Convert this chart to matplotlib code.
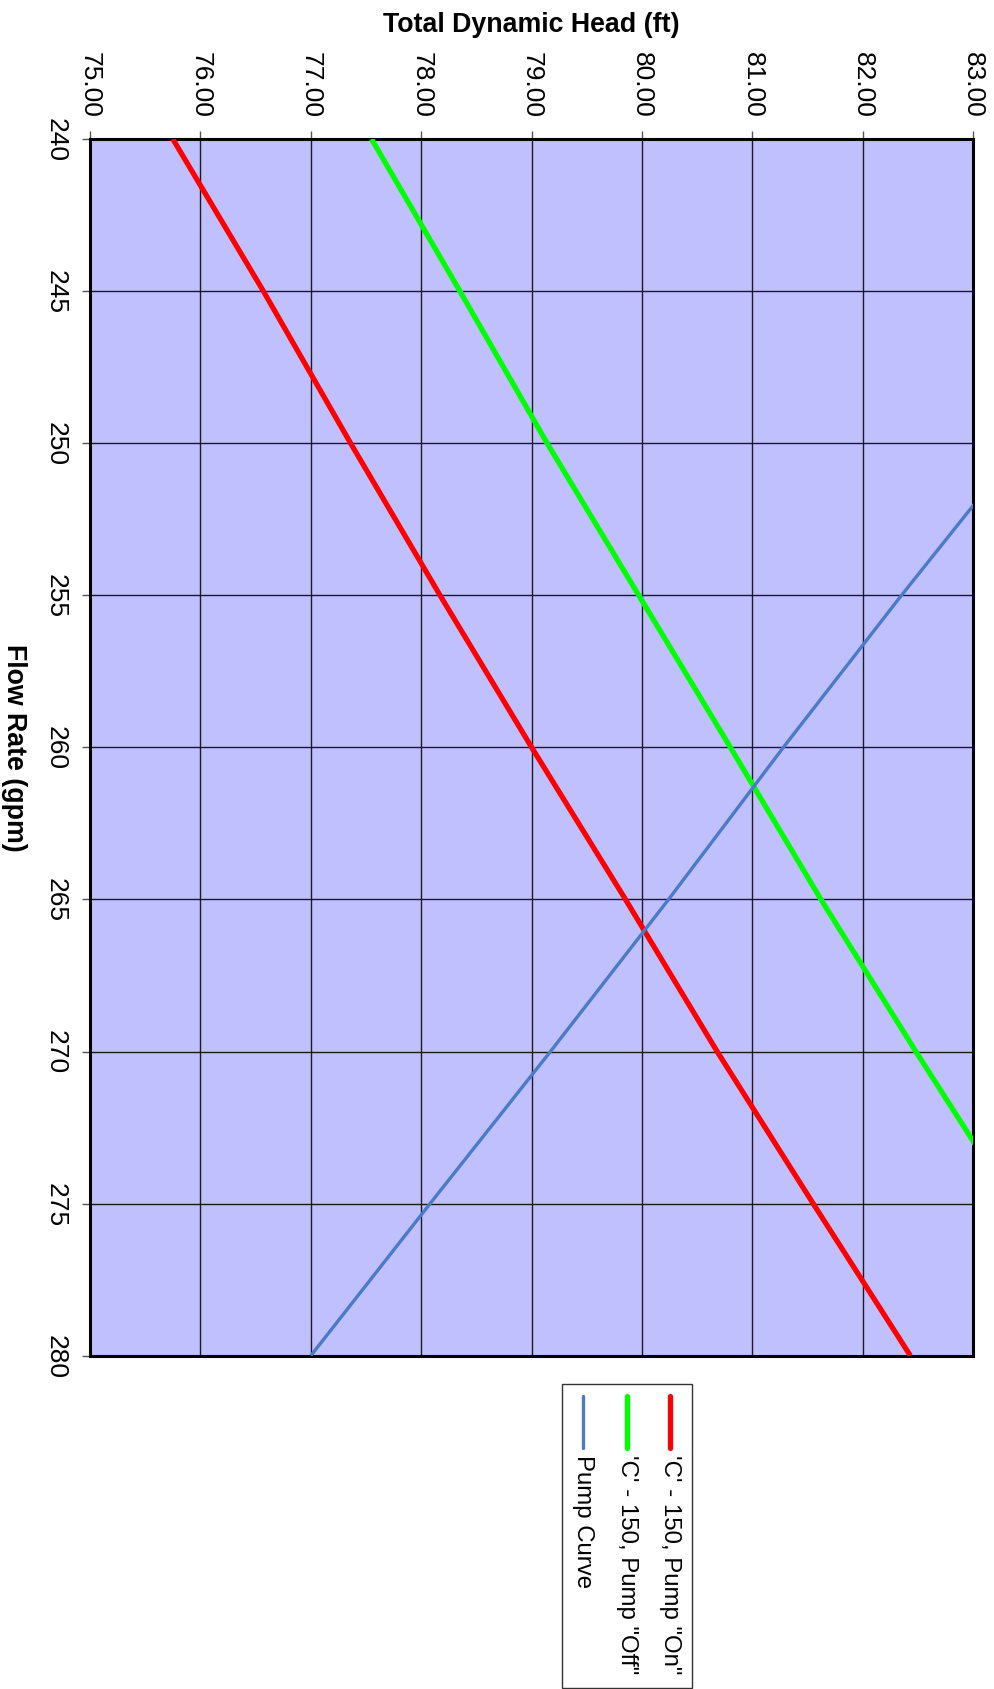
import matplotlib
matplotlib.use("Agg")
import matplotlib.pyplot as plt
from matplotlib.lines import Line2D
from matplotlib.patches import Rectangle

plt.rcParams['font.family'] = ['Liberation Sans', 'DejaVu Sans']

# flow rate (gpm) and total dynamic head (ft)
flow = [240, 245, 250, 255, 260, 265, 270, 275, 280]
head_on = [75.75, 76.57, 77.36, 78.17, 79.00, 79.85, 80.68, 81.55, 82.43]
head_off = [77.55, 78.35, 79.14, 79.97, 80.80, 81.62, 82.48, 83.36, 84.25]
head_pump = [85.60, 84.50, 83.45, 82.35, 81.28, 80.24, 79.17, 78.08, 77.00]

labels = ["'C' - 150, Pump \"On\"", "'C' - 150, Pump \"Off\"", "Pump Curve"]
colors = ["#FF0000", "#00FF00", "#4A7AC8"]
widths = [3.8, 3.8, 2.4]

W, H = 994, 1690
fig = plt.figure(figsize=(W / 100, H / 100), dpi=100)
ax = fig.add_axes([90 / W, 1 - 1356.7 / H, (973.3 - 90) / W, (1356.7 - 140) / H])
ax.set_facecolor("#C0C0FF")

for ys, c, lw in zip([head_on, head_off, head_pump], colors, widths):
    ax.plot(ys, flow, color=c, lw=lw, solid_capstyle="butt", zorder=3)

ax.set_xlim(75, 83)
ax.set_ylim(280, 240)
ax.set_xticks([75, 76, 77, 78, 79, 80, 81, 82, 83])
ax.set_xticklabels(["%.2f" % v for v in ax.get_xticks()])
ax.set_yticks([240, 245, 250, 255, 260, 265, 270, 275, 280])
ax.grid(True, color="#1a1a1a", lw=1.0, zorder=1)
ax.set_axisbelow(True)

ax.xaxis.tick_top()
ax.xaxis.set_label_position("top")
ax.tick_params(axis="both", direction="out", length=6, width=1, color="#555555",
               labelsize=19, pad=10)
ax.tick_params(axis="x", labelrotation=-90)
ax.tick_params(axis="y", labelrotation=-90)
for t in ax.get_yticklabels():
    t.set_va("center")

for s in ax.spines.values():
    s.set_linewidth(2.2)
    s.set_color("black")

ax.set_xlabel("Total Dynamic Head (ft)", fontsize=19.3, fontweight="bold", labelpad=14)
ax.set_ylabel("Flow Rate (gpm)", fontsize=19.3, fontweight="bold", rotation=-90,
              va="top", labelpad=12)

# legend box, drawn rotated like the rest of the chart
fig.add_artist(Rectangle((562 / W, 1 - 1689 / H), 130 / W, 304 / H,
                         transform=fig.transFigure, facecolor="white",
                         edgecolor="#333333", lw=1.0))
lx = [670, 627, 583]
for x, lab, c, lw in zip(lx, labels, colors, widths):
    fig.add_artist(Line2D([x / W, x / W], [1 - 1397 / H, 1 - 1449 / H],
                          transform=fig.transFigure, color=c, lw=lw,
                          solid_capstyle="round"))
    fig.text(x / W, 1 - 1455 / H, lab, rotation=-90, ha="center", va="top",
             fontsize=17.3)

fig.savefig("out.png", dpi=100)
